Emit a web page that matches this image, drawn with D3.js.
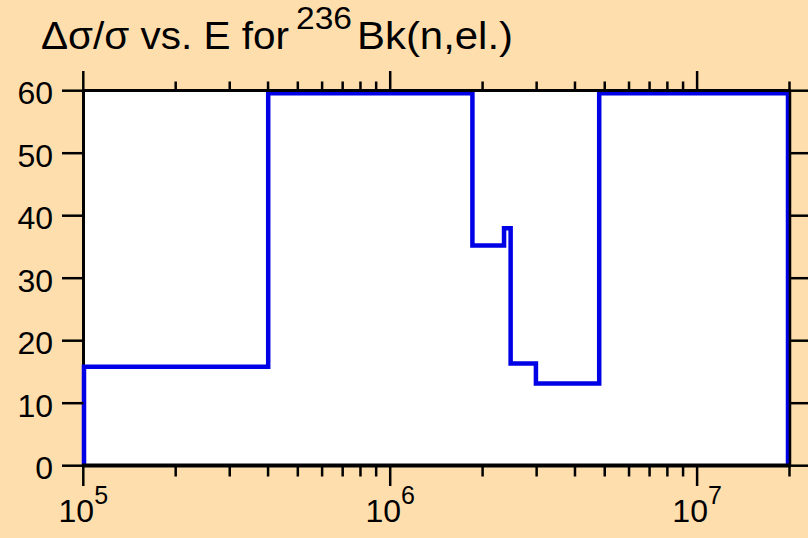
<!DOCTYPE html>
<html>
<head>
<meta charset="utf-8">
<script src="https://cdn.jsdelivr.net/npm/d3@7"></script>
<style>
  html, body { margin: 0; padding: 0; background: #ffdead; }
  svg { display: block; }
  text { font-family: "Liberation Sans", Arial, sans-serif; fill: #000; }
</style>
</head>
<body>
<svg id="chart" width="808" height="538"></svg>
<script>
// ---- data ----
const binEdges = [1e5, 4e5, 1.86e6, 2.36e6, 2.48e6, 3.0e6, 4.83e6, 2e7];
const binValues = [16, 60, 35.5, 38.3, 16.5, 13.3, 60];
const yTicks = [0, 10, 20, 30, 40, 50, 60];
const xMajorTicks = [1e5, 1e6, 1e7];
const xMajorExponents = ["5", "6", "7"];
const xMinorTicks = [2e5,3e5,4e5,5e5,6e5,7e5,8e5,9e5,2e6,3e6,4e6,5e6,6e6,7e6,8e6,9e6,2e7];
const titleMain = "\u0394\u03c3/\u03c3 vs. E for";
const titleSup = "236";
const titleEnd = "Bk(n,el.)";

// ---- layout ----
const W = 808, H = 538;
const L = 83.5, R = 790, T = 90.5, B = 465.5;

const svg = d3.select("#chart");

// axis scales (frame) and plotting scales (line inset)
const xAxisScale = d3.scaleLog().domain([1e5, 2e7]).range([83.3, 789.5]);
const yAxisScale = d3.scaleLinear().domain([0, 60]).range([465.7, 90.7]);
const xLine = d3.scaleLog().domain([1e5, 2e7]).range([84, 788]);
const yLine = d3.scaleLinear().domain([0, 60]).range([466.1, 93.3]);

svg.append("rect").attr("width", W).attr("height", H).attr("fill", "#ffdead");
svg.append("rect").attr("x", L).attr("y", T).attr("width", R - L).attr("height", B - T).attr("fill", "#fff");

// left frame line (under data)
svg.append("line").attr("x1", L).attr("x2", L).attr("y1", T).attr("y2", B)
  .attr("stroke", "#000").attr("stroke-width", 3);

// step histogram outline
const pts = [[binEdges[0], 0]];
binValues.forEach((v, i) => {
  pts.push([binEdges[i], v]);
  pts.push([binEdges[i + 1], v]);
});
pts.push([binEdges[binEdges.length - 1], 0]);
const line = d3.line().x(d => xLine(d[0])).y(d => yLine(d[1]));
svg.append("path").datum(pts).attr("d", line)
  .attr("fill", "none").attr("stroke", "#0000e6").attr("stroke-width", 4.5)
  .attr("stroke-linejoin", "miter");

// frame lines on top
svg.append("line").attr("x1", L - 1.5).attr("x2", R + 1).attr("y1", T).attr("y2", T)
  .attr("stroke", "#000").attr("stroke-width", 3);
svg.append("line").attr("x1", L - 1.5).attr("x2", R + 1).attr("y1", B).attr("y2", B)
  .attr("stroke", "#000").attr("stroke-width", 4);
svg.append("line").attr("x1", R).attr("x2", R).attr("y1", T).attr("y2", B)
  .attr("stroke", "#000").attr("stroke-width", 2.5);

// y ticks left + right
const tk = svg.append("g").attr("stroke", "#000").attr("stroke-width", 2.5);
yTicks.forEach(v => {
  const y = yAxisScale(v);
  tk.append("line").attr("x1", 62).attr("x2", L).attr("y1", y).attr("y2", y);
  tk.append("line").attr("x1", R).attr("x2", W).attr("y1", y).attr("y2", y);
});
// x ticks bottom + top
xMajorTicks.forEach(v => {
  const x = xAxisScale(v);
  tk.append("line").attr("x1", x).attr("x2", x).attr("y1", B).attr("y2", 486);
  tk.append("line").attr("x1", x).attr("x2", x).attr("y1", T).attr("y2", 71);
});
xMinorTicks.forEach(v => {
  const x = xAxisScale(v);
  tk.append("line").attr("x1", x).attr("x2", x).attr("y1", B).attr("y2", 476.5);
  tk.append("line").attr("x1", x).attr("x2", x).attr("y1", T).attr("y2", 81.5);
});

// y labels
yTicks.forEach(v => {
  svg.append("text").attr("x", 53).attr("y", yAxisScale(v) + 13.5)
    .attr("text-anchor", "end").attr("font-size", 32).text(v);
});

// x labels
xMajorTicks.forEach((v, i) => {
  const t = svg.append("text").attr("x", xAxisScale(v)).attr("y", 522)
    .attr("text-anchor", "middle").attr("font-size", 32);
  t.append("tspan").text("10");
  t.append("tspan").attr("dy", -18).attr("font-size", 25).text(xMajorExponents[i]);
});

// title
svg.append("text").attr("x", 41).attr("y", 48.5).attr("font-size", 38)
  .attr("textLength", 248).attr("lengthAdjust", "spacingAndGlyphs").text(titleMain);
svg.append("text").attr("x", 296).attr("y", 29).attr("font-size", 31)
  .attr("textLength", 56).attr("lengthAdjust", "spacingAndGlyphs").text(titleSup);
svg.append("text").attr("x", 357).attr("y", 48.5).attr("font-size", 38)
  .attr("textLength", 156).attr("lengthAdjust", "spacingAndGlyphs").text(titleEnd);
</script>
</body>
</html>
